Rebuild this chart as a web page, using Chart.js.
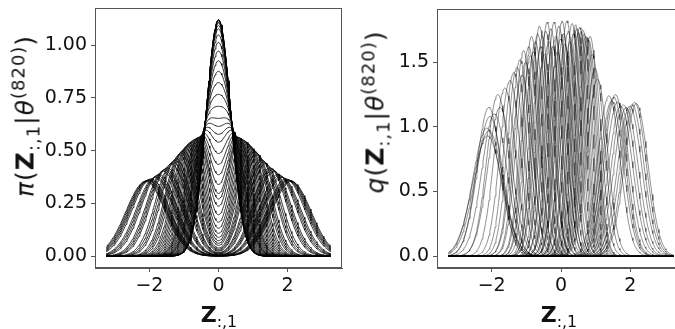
<!DOCTYPE html>
<html>
<head>
<meta charset="utf-8">
<script src="https://cdn.jsdelivr.net/npm/chart.js@4/dist/chart.umd.min.js"></script>
<style>
  html, body { margin: 0; padding: 0; background: #fff; }
  body { width: 675px; height: 329px; position: relative; overflow: hidden; }
  canvas { position: absolute; left: 0; top: 0; }
  .lab { position: absolute; font-family: "DejaVu Sans"; font-size: 22px; color: #111; white-space: nowrap; line-height: 1; }
  .ylab { font-size: 25px; letter-spacing: 1px; transform: translate(-50%, -50%) rotate(-90deg); }
  .xlab { transform: translate(-50%, 0); }
  .lab b { font-weight: bold; }
  .lab i { font-style: italic; }
  .lab sub, .lab sup { font-size: 0.72em; line-height: 0; }
</style>
</head>
<body>
<canvas id="prior" width="675" height="329"></canvas>
<canvas id="post" width="720" height="329"></canvas>

<div class="lab ylab" style="left:25px; top:116px"><i>π</i>(<b>Z</b><sub>:,1</sub>|<i>θ</i><sup>(820)</sup>)</div>
<div class="lab ylab" style="left:375px; top:112px"><i>q</i>(<b>Z</b><sub>:,1</sub>|<i>θ</i><sup>(820)</sup>)</div>
<div class="lab xlab" style="left:219px; top:304px"><b>Z</b><sub>:,1</sub></div>
<div class="lab xlab" style="left:559px; top:304px"><b>Z</b><sub>:,1</sub></div>

<script>
// Evaluation grid for the latent coordinate
const zStart = -3.25, zStop = 3.25, zStep = 0.025;

// Prior: symmetric two-component mixtures at ±halfSep with a shared scale
const priorHalfSep = [
  0.00, 0.01, 0.02, 0.03, 0.05, 0.06, 0.08, 0.10, 0.13, 0.16, 0.19, 0.22, 0.25, 0.28, 0.31,
  0.34, 0.37, 0.39, 0.41, 0.43, 0.46, 0.49, 0.52, 0.55, 0.58,
  0.60, 0.63, 0.67, 0.71, 0.75, 0.79, 0.83, 0.87, 0.91, 0.95,
  1.01, 1.05, 1.09, 1.13, 1.22, 1.26, 1.31, 1.36,
  1.48, 1.52, 1.56, 1.60, 1.72, 1.76, 1.80, 1.84,
  1.95, 1.99, 2.02, 2.05, 2.08, 2.11
];
const priorScale = [
  0.356, 0.356, 0.356, 0.356, 0.356, 0.356, 0.356, 0.356, 0.356, 0.356, 0.356, 0.356, 0.356, 0.356, 0.356,
  0.356, 0.356, 0.356, 0.356, 0.356, 0.356, 0.356, 0.356, 0.356, 0.356,
  0.356, 0.358, 0.360, 0.362, 0.365, 0.368, 0.372, 0.377, 0.382, 0.388,
  0.396, 0.402, 0.408, 0.415, 0.432, 0.440, 0.447, 0.455,
  0.476, 0.482, 0.488, 0.495, 0.515, 0.522, 0.530, 0.535,
  0.545, 0.550, 0.553, 0.555, 0.560, 0.563
];

// Variational posterior: one Gaussian per row, given by its centre and peak height
const postCenter = [
  -2.14, -2.12, -2.08, -2.05, -2.08, -1.92, -1.82, -1.76, -1.62, -1.47, -1.36,
  -1.27, -1.18, -1.12, -1.08, -1.02, -0.93, -0.88, -0.85, -0.79, -0.74, -0.67, -0.62,
  -0.58, -0.54, -0.48, -0.44, -0.40, -0.35, -0.29, -0.24, -0.20, -0.15, -0.10, -0.06, -0.01,
   0.03,  0.07,  0.11,  0.17,  0.21,  0.26,  0.32,  0.36,  0.42,  0.46,  0.50,
   0.54,  0.58,  0.63,  0.67,  0.72,  0.76,  0.80,  0.84,  0.90,  0.98,  1.05,
   1.38,  1.46,  1.52,  1.57,  1.63,  1.72,  1.80,  1.88,  1.98,  2.05,  2.12,  2.17
];
const postPeak = [
   0.99,  0.93,  0.97,  1.08,  1.15,  1.10,  1.25,  1.15,  1.30,  1.36,  1.42,
   1.46,  1.52,  1.40,  1.59,  1.50,  1.62,  1.55,  1.70,  1.58,  1.66,  1.72,  1.78,
   1.62,  1.70,  1.56,  1.74,  1.81,  1.66,  1.76,  1.62,  1.81,  1.70,  1.58,  1.78,  1.68,
   1.82,  1.72,  1.64,  1.82,  1.74,  1.66,  1.80,  1.72,  1.79,  1.76,  1.73,
   1.77,  1.74,  1.75,  1.72,  1.70,  1.69,  1.67,  1.70,  1.56,  1.45,  1.37,
   1.24,  1.20,  1.23,  1.25,  1.19,  1.16,  1.17,  1.15,  1.16,  1.17,  1.19,  1.18
];

// Axis ticks
const zTicks = [-2, 0, 2];
const priorTicks = [0, 0.25, 0.5, 0.75, 1.0];
const postTicks = [0, 0.5, 1.0, 1.5];

const SQRT2PI = Math.sqrt(2 * Math.PI);
function normalPdf(z, mean, sd) {
  const u = (z - mean) / sd;
  return Math.exp(-0.5 * u * u) / (sd * SQRT2PI);
}

const zGrid = [];
const nSteps = Math.round((zStop - zStart) / zStep);
for (let i = 0; i <= nSteps; i++) zGrid.push(zStart + i * zStep);

function lineStyle(color, width) {
  return { borderColor: color, borderWidth: width, pointRadius: 0, fill: false, tension: 0 };
}

const priorSets = priorHalfSep.map((m, i) => Object.assign({
  data: zGrid.map(z => ({ x: z, y: 0.5 * normalPdf(z, -m, priorScale[i]) + 0.5 * normalPdf(z, m, priorScale[i]) }))
}, lineStyle('rgba(0,0,0,0.9)', 0.9)));

const postSets = postCenter.map((c, i) => {
  const sd = 1 / (postPeak[i] * SQRT2PI);
  return Object.assign({ data: zGrid.map(z => ({ x: z, y: normalPdf(z, c, sd) })) },
                       lineStyle('rgba(0,0,0,0.62)', 0.7));
});

Chart.defaults.font.family = "'DejaVu Sans'";
Chart.defaults.color = '#111';

const frame = {
  id: 'frame',
  afterDatasetsDraw(chart) {
    const a = chart.chartArea, ctx = chart.ctx;
    ctx.save();
    ctx.strokeStyle = '#555';
    ctx.lineWidth = 1;
    ctx.strokeRect(Math.round(a.left) + 0.5, Math.round(a.top) + 0.5,
                   Math.round(a.right - a.left) - 1, Math.round(a.bottom - a.top) - 1);
    ctx.restore();
  }
};

function zeroPad(s) { s.paddingTop = 0; s.paddingBottom = 0; s.paddingLeft = 0; s.paddingRight = 0; }

function buildOptions(o) {
  return {
    responsive: false,
    animation: false,
    parsing: false,
    normalized: true,
    layout: { padding: { left: o.padLeft, right: o.padRight, top: o.padTop, bottom: 0 } },
    plugins: { legend: { display: false }, tooltip: { enabled: false } },
    events: [],
    scales: {
      x: {
        type: 'linear',
        min: -3.575, max: 3.575,
        afterBuildTicks: s => { s.ticks = zTicks.map(v => ({ value: v })); },
        afterFit: s => { s.height = 329 - o.bottom; zeroPad(s); },
        ticks: { font: { size: 19 }, color: '#111', padding: 3, maxRotation: 0,
                 callback: v => (v < 0 ? '\u2212' + Math.abs(v) : String(v)) },
        grid: { display: true, drawOnChartArea: false, drawTicks: true, tickLength: 4, tickColor: '#555', tickWidth: 1 },
        border: { display: true, color: '#555', width: 1 }
      },
      y: {
        type: 'linear',
        min: o.yMin, max: o.yMax,
        afterBuildTicks: s => { s.ticks = o.yTicks.map(v => ({ value: v })); },
        afterFit: s => { s.width = o.yWidth; zeroPad(s); },
        ticks: { font: { size: 19 }, color: '#111', padding: 4,
                 callback: v => v.toFixed(o.digits) },
        grid: { display: true, drawOnChartArea: false, drawTicks: true, tickLength: 4, tickColor: '#555', tickWidth: 1 },
        border: { display: true, color: '#555', width: 1 }
      }
    }
  };
}

new Chart(document.getElementById('prior'), {
  type: 'line',
  data: { datasets: priorSets },
  options: buildOptions({ padLeft: 0, padRight: 675 - 342, padTop: 8, bottom: 268, yWidth: 95,
                          yMin: -0.056, yMax: 1.176, yTicks: priorTicks, digits: 2 }),
  plugins: [frame]
});

new Chart(document.getElementById('post'), {
  type: 'line',
  data: { datasets: postSets },
  options: buildOptions({ padLeft: 342, padRight: 720 - 685, padTop: 9, bottom: 268, yWidth: 95,
                          yMin: -0.091, yMax: 1.911, yTicks: postTicks, digits: 1 }),
  plugins: [frame]
});
</script>
</body>
</html>
